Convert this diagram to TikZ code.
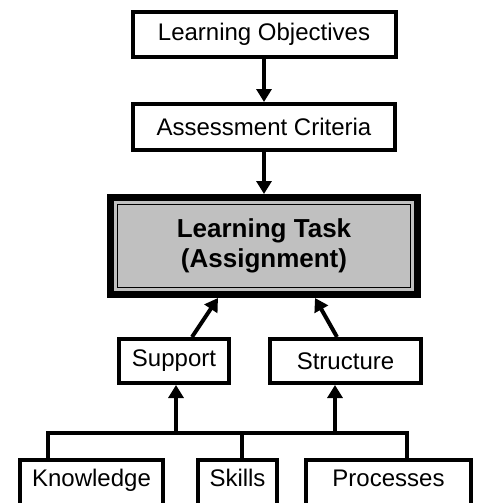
\documentclass[tikz,border=0pt]{standalone}
\usepackage{fontspec}
\setmainfont{Liberation Sans}
\usetikzlibrary{arrows.meta}
\definecolor{ltgray}{RGB}{192,192,192}
\begin{document}
\begin{tikzpicture}[x=1pt,y=1pt,
  box/.style={draw, line width=4pt, inner sep=0pt, fill=white, font=\fontsize{24}{28}\selectfont},
  bottombox/.style={box, anchor=north, text height=26.6pt, text depth=50pt},
  conn/.style={line width=4pt},
  arr/.style={line width=4pt, -{Triangle[length=13pt,width=15pt]}},
  ]
\useasboundingbox (0,0) rectangle (479,-503);
\clip (0,0) rectangle (479,-503);
\fill[white] (0,0) rectangle (479,-503);

\node[box, minimum width=263pt, minimum height=45pt] (lo) at (264,-34.5) {Learning Objectives};
\node[box, minimum width=262pt, minimum height=46pt] (ac) at (264,-127) {Assessment Criteria};
\node[draw, line width=7pt, fill=ltgray, minimum width=307pt, minimum height=97pt, inner sep=0pt,
      align=center, font=\fontsize{26}{30}\bfseries\selectfont] (lt) at (264,-246) {Learning Task\\(Assignment)};
\draw[line width=1.5pt] ([shift={(10.5,-10.5)}]lt.north west) rectangle ([shift={(-10.5,10.5)}]lt.south east);

\node[box, minimum width=110pt, minimum height=44pt] (sup) at (174,-361) {Support};
\node[box, minimum width=151pt, minimum height=44pt] (str) at (345.5,-361) {Structure};

\node[bottombox, minimum width=143pt] (kn) at (91.5,-458) {Knowledge};
\node[bottombox, minimum width=79pt] (sk) at (237.5,-458) {Skills};
\node[bottombox, minimum width=165pt] (pr) at (388.5,-458) {Processes};

\draw[arr] (lo) -- (ac);
\draw[arr] (ac) -- (lt);
\draw[arr] ([xshift=18pt]sup.north) -- ([xshift=-46pt]lt.south);
\draw[arr] ([xshift=-8.5pt]str.north) -- ([xshift=51pt]lt.south);

\coordinate (bl) at (48,-433);
\coordinate (br) at (407,-433);
\coordinate (bs) at (242,-433);
\coordinate (ba) at (176,-433);
\coordinate (bb) at (335,-433);
\draw[conn] (kn.north -| bl) -- (bl) -- (br) -- (pr.north -| br);
\draw[conn] (bs) -- (sk.north -| bs);
\draw[arr] (ba) -- (sup.south -| ba);
\draw[arr] (bb) -- (str.south -| bb);
\end{tikzpicture}
\end{document}
